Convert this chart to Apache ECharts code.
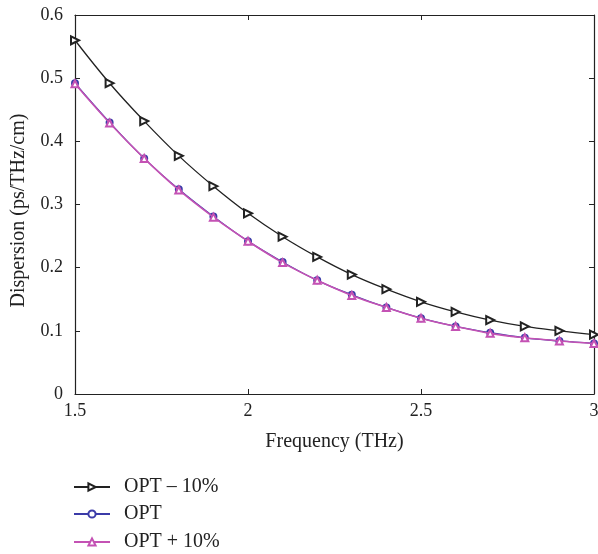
<!DOCTYPE html>
<html><head><meta charset="utf-8">
<script src="https://cdn.jsdelivr.net/npm/echarts@6/dist/echarts.min.js"></script>
<style>html,body{margin:0;padding:0;background:#fff}#c{width:598px;height:554px}</style>
</head><body><div id="c"></div>
<script>
const freq = [1.5,1.6,1.7,1.8,1.9,2.0,2.1,2.2,2.3,2.4,2.5,2.6,2.7,2.8,2.9,3.0];
const optMinus = [0.560,0.492,0.432,0.377,0.329,0.286,0.249,0.217,0.189,0.166,0.146,0.130,0.117,0.107,0.100,0.094];
const opt      = [0.492,0.430,0.373,0.324,0.281,0.242,0.209,0.180,0.157,0.137,0.120,0.107,0.097,0.089,0.084,0.080];
const optPlus  = [0.491,0.429,0.373,0.323,0.280,0.242,0.208,0.180,0.156,0.137,0.120,0.107,0.096,0.089,0.084,0.080];
const seriesNames = ['OPT \u2013 10%','OPT','OPT + 10%'];
const xTicks = [1.5,2,2.5,3];
const yTicks = [0,0.1,0.2,0.3,0.4,0.5,0.6];

const font = 'Liberation Serif';
const pair = a => freq.map((f,i)=>[f,a[i]]);
const axisCommon = {
  axisLine:{show:true,onZero:false,lineStyle:{color:'#222',width:1.2}},
  axisTick:{show:true,inside:true,length:5,lineStyle:{color:'#222'}},
  splitLine:{show:false}
};
const legendTops = [477,504,532];
const chart = echarts.init(document.getElementById('c'));
chart.setOption({
  animation:false,
  textStyle:{fontFamily:font},
  grid:{left:75,right:4,top:15,bottom:160,outerBoundsMode:'none',containLabel:false},
  legend: seriesNames.map((n,i)=>({
    left:73,top:legendTops[i],padding:0,itemWidth:36,itemHeight:9,itemGap:10,
    textStyle:{fontFamily:font,fontSize:20,color:'#222',padding:[0,0,0,9]},
    data:[n]
  })),
  xAxis:[
    Object.assign({type:'value',min:1.5,max:3,interval:0.5,position:'bottom',
      name:'Frequency (THz)',nameLocation:'middle',nameGap:38,
      nameTextStyle:{fontFamily:font,fontSize:20,color:'#222'},
      axisLabel:{fontFamily:font,fontSize:18,color:'#222',margin:8,
        formatter:v=>xTicks.includes(v)?String(v):''}},axisCommon),
    Object.assign({type:'value',min:1.5,max:3,interval:0.5,position:'top',
      axisLabel:{show:false}},axisCommon)
  ],
  yAxis:[
    Object.assign({type:'value',min:0,max:0.6,interval:0.1,position:'left',
      name:'Dispersion (ps/THz/cm)',nameLocation:'middle',nameGap:46,
      nameTextStyle:{fontFamily:font,fontSize:20,color:'#222',padding:[0,12,0,0]},
      axisLabel:{fontFamily:font,fontSize:18,color:'#222',margin:12,
        formatter:v=>{const t=yTicks.find(y=>Math.abs(y-v)<1e-9);return t===undefined?'':(t===0?'0':t.toFixed(1));}}},axisCommon),
    Object.assign({type:'value',min:0,max:0.6,interval:0.1,position:'right',
      axisLabel:{show:false}},axisCommon)
  ],
  series:[
    {name:seriesNames[0],type:'line',smooth:0.4,data:pair(optMinus),symbol:'emptyTriangle',symbolRotate:-90,symbolSize:8,
      lineStyle:{color:'#222',width:1.3},itemStyle:{color:'#222',borderWidth:1.1},z:3},
    {name:seriesNames[1],type:'line',smooth:0.4,data:pair(opt),symbol:'emptyCircle',symbolSize:6,
      lineStyle:{color:'#3b3ba8',width:1.3},itemStyle:{color:'#3b3ba8',borderWidth:1.1},z:3},
    {name:seriesNames[2],type:'line',smooth:0.4,data:pair(optPlus),symbol:'emptyTriangle',symbolSize:7,
      lineStyle:{color:'#c452b4',width:1.6},itemStyle:{color:'#c452b4',borderWidth:1.1},z:4}
  ]
});
</script></body></html>
